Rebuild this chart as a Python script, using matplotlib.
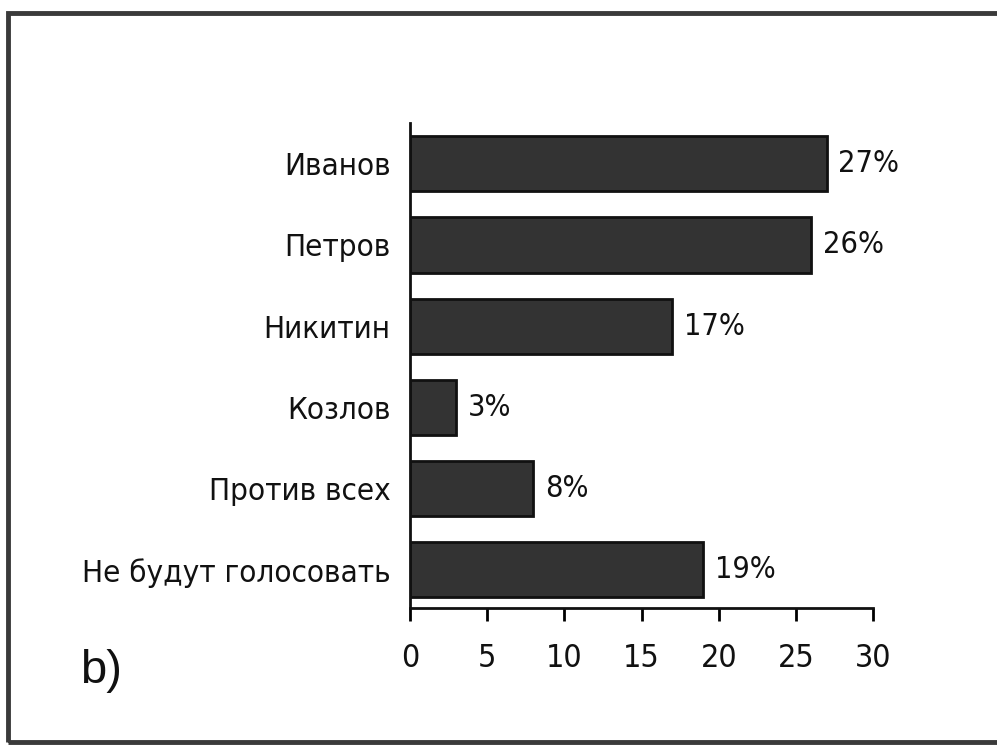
import matplotlib
matplotlib.use("Agg")
import matplotlib.pyplot as plt
from matplotlib.patches import Rectangle

categories = ["Иванов", "Петров", "Никитин", "Козлов", "Против всех", "Не будут голосовать"]
values = [27, 26, 17, 3, 8, 19]
value_labels = ["27%", "26%", "17%", "3%", "8%", "19%"]
x_ticks = [0, 5, 10, 15, 20, 25, 30]

plt.rcParams["font.family"] = ["DejaVu Sans"]
plt.rcParams["font.stretch"] = "condensed"

fig = plt.figure(figsize=(9.97, 7.46), dpi=100)
ax = fig.add_axes([0.4112, 0.185, 0.4645, 0.65])

ypos = list(range(len(categories)))[::-1]
ax.barh(ypos, values, height=0.68, color="#333333", edgecolor="#111111", linewidth=2)

for y, v, lab in zip(ypos, values, value_labels):
    ax.text(v + 0.75, y, lab, va="center", ha="left", fontsize=22, color="#111111")

ax.set_xlim(0, 30)
ax.set_ylim(-0.47, 5.5)
ax.set_yticks(ypos)
ax.set_yticklabels(categories, fontsize=22.5, color="#111111")
ax.set_xticks(x_ticks)
ax.set_xticklabels([str(t) for t in x_ticks], fontsize=23, color="#111111")
ax.tick_params(axis="y", length=0, pad=14)
ax.tick_params(axis="x", length=9, width=2, pad=16, direction="out")
for side in ("top", "right"):
    ax.spines[side].set_visible(False)
for side in ("left", "bottom"):
    ax.spines[side].set_linewidth(2)
    ax.spines[side].set_color("#111111")

fig.text(0.08, 0.085, "b)", fontsize=34, family="Liberation Sans", stretch="normal", color="#111111")

fig.patches.append(Rectangle((0.008, 0.006), 1.2, 0.976, transform=fig.transFigure,
                             fill=False, edgecolor="#3a3a3a", linewidth=3.5))

fig.savefig("out.png", dpi=100, facecolor="white")
